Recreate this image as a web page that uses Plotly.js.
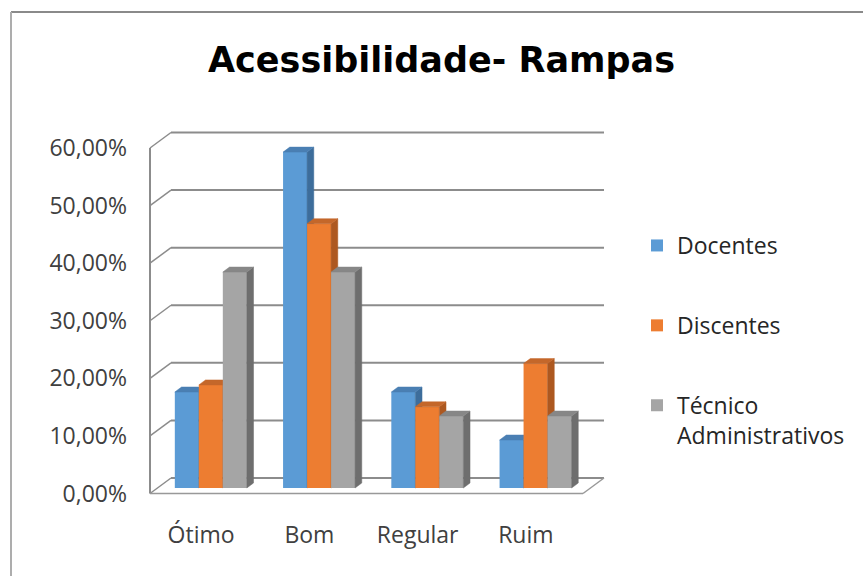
<!DOCTYPE html>
<html><head><meta charset="utf-8">
<script src="https://cdn.plot.ly/plotly-3.0.1.min.js"></script>
<style>html,body{margin:0;padding:0;background:#fff;} #chart{width:863px;height:576px;}</style>
</head><body><div id="chart"></div>
<script>
// ---- data ----
const categories = ['Ótimo', 'Bom', 'Regular', 'Ruim'];
const docentes   = [0.1667, 0.5833, 0.1667, 0.0833];
const discentes  = [0.179, 0.459, 0.141, 0.216];
const tecnicos   = [0.375, 0.375, 0.125, 0.125];
const seriesNames = ['Docentes', 'Discentes', 'Técnico<br>Administrativos'];
const yTickVals = [0, 0.1, 0.2, 0.3, 0.4, 0.5, 0.6];
const yTickText = ['0,00%', '10,00%', '20,00%', '30,00%', '40,00%', '50,00%', '60,00%'];

// ---- geometry / style ----
const W = 863, H = 576, L = 140, R = 243, T = 110, B = 71;
const plotL = L, plotR = W - R, plotT = T, plotB = H - B;
const pxX = 108.25;            // px per category
const floorLeftPx = 150;
const y0Px = 493.5, pxY = 345.5 / 0.6;
const nCat = categories.length;
const xr = [-0.5 - (floorLeftPx - plotL) / pxX, -0.5 + (plotR - floorLeftPx) / pxX];
const yr = [-(plotB - y0Px) / pxY, (y0Px - plotT) / pxY];
const wallDx = 21 / pxX, wallDy = 15.5 / pxY;
const barShiftX = 6.7 / pxX, barShiftY = 5.5 / pxY;
const xrBar = [xr[0] - barShiftX, xr[1] - barShiftX];
const yrBar = [yr[0] - barShiftY, yr[1] - barShiftY];
const barW = 24 / pxX;
const depthDx = 6.7 / pxX, depthDy = 5 / pxY;

const frontCol = ['#5B9BD5', '#ED7D31', '#A5A5A5'];
const sideCol  = ['#3D6D9B', '#AD5820', '#6E6E6E'];
const topCol   = ['#4A7FB3', '#C4672A', '#878787'];
const allSeries = [docentes, discentes, tecnicos];

const traces = [];
allSeries.forEach((vals, k) => {
  const xa = 'x' + (k + 2), ya = 'y' + (k + 2);
  const xs = categories.map((c, i) => i);
  traces.push({
    type: 'bar', name: seriesNames[k], x: xs, y: vals,
    width: barW, offset: (k - 1.5) * barW,
    xaxis: xa, yaxis: ya, legendgroup: 'g' + k,
    marker: {color: frontCol[k], line: {width: 0}},
    hoverinfo: 'skip'
  });
  const side = {x: [], y: []}, top = {x: [], y: []};
  vals.forEach((v, i) => {
    const x0 = i + (k - 1.5) * barW, x1 = x0 + barW;
    side.x.push(x1, x1 + depthDx, x1 + depthDx, x1, x1, null);
    side.y.push(0, depthDy, v + depthDy, v, 0, null);
    top.x.push(x0, x1, x1 + depthDx, x0 + depthDx, x0, null);
    top.y.push(v, v, v + depthDy, v + depthDy, v, null);
  });
  traces.push({type: 'scatter', mode: 'lines', x: side.x, y: side.y, fill: 'toself',
    fillcolor: sideCol[k], line: {color: sideCol[k], width: 0.5}, xaxis: xa, yaxis: ya,
    showlegend: false, hoverinfo: 'skip'});
  traces.push({type: 'scatter', mode: 'lines', x: top.x, y: top.y, fill: 'toself',
    fillcolor: topCol[k], line: {color: topCol[k], width: 0.5}, xaxis: xa, yaxis: ya,
    showlegend: false, hoverinfo: 'skip'});
});

const shapes = [];
const gridCol = '#8C8C8C';
const xLeft = -0.5, xRight = nCat - 0.5;
yTickVals.forEach(v => {
  shapes.push({type: 'line', xref: 'x', yref: 'y', layer: 'below',
    x0: xLeft + wallDx, x1: xRight + wallDx, y0: v + wallDy, y1: v + wallDy,
    line: {color: gridCol, width: 2}});
  shapes.push({type: 'line', xref: 'x', yref: 'y', layer: 'below',
    x0: xLeft, x1: xLeft + wallDx, y0: v, y1: v + wallDy,
    line: {color: gridCol, width: 1.5}});
});
const yMaxTick = yTickVals[yTickVals.length - 1];
shapes.push({type: 'line', xref: 'x', yref: 'y', layer: 'below',
  x0: xLeft, x1: xLeft, y0: 0, y1: yMaxTick, line: {color: gridCol, width: 2}});
shapes.push({type: 'line', xref: 'x', yref: 'y', layer: 'below',
  x0: xLeft, x1: xRight, y0: 0, y1: 0, line: {color: '#999999', width: 1.5}});
shapes.push({type: 'line', xref: 'x', yref: 'y', layer: 'below',
  x0: xRight, x1: xRight + wallDx, y0: 0, y1: wallDy, line: {color: '#999999', width: 1.5}});
// chart-area border (top and left edges)
const pX = px => (px - plotL) / (plotR - plotL);
const pY = py => (plotB - py) / (plotB - plotT);
shapes.push({type: 'line', xref: 'paper', yref: 'paper', x0: pX(11), x1: pX(870), y0: pY(12), y1: pY(12),
  line: {color: '#8A8A8A', width: 2}});
shapes.push({type: 'line', xref: 'paper', yref: 'paper', x0: pX(11), x1: pX(11), y0: pY(12), y1: pY(590),
  line: {color: '#ADADAD', width: 2}});

const tickFont = {family: 'Open Sans', size: 23, color: '#404040'};
const layout = {
  width: W, height: H,
  margin: {l: L, r: R, t: T, b: B},
  paper_bgcolor: '#ffffff', plot_bgcolor: 'rgba(0,0,0,0)',
  showlegend: true,
  title: {text: 'Acessibilidade- Rampas', font: {family: 'DejaVu Sans', size: 35, color: '#000000', weight: 'bold'},
    x: 441.5 / W, xref: 'container', xanchor: 'center', y: 1 - 60 / H, yref: 'container', yanchor: 'middle'},
  xaxis: {range: xr, tickvals: categories.map((c, i) => i), ticktext: categories, showgrid: false,
    zeroline: false, showline: false, ticks: '', tickfont: tickFont, ticklabelstandoff: 14, ticklabelshift: -3,
    fixedrange: true},
  yaxis: {range: yr, tickvals: yTickVals, ticktext: yTickText, showgrid: false, zeroline: false,
    showline: false, ticks: '', tickfont: tickFont, ticklabelstandoff: 12, fixedrange: true},
  legend: {x: 637 / W, xref: 'container', xanchor: 'left', y: 1 - 224 / H, yref: 'container', yanchor: 'top',
    font: {family: 'Open Sans', size: 23, color: '#262626'}, tracegroupgap: 47, valign: 'top',
    bgcolor: 'rgba(0,0,0,0)', traceorder: 'grouped'},
  shapes: shapes
};
[2, 3, 4].forEach(n => {
  layout['xaxis' + n] = {overlaying: 'x', anchor: 'y' + n, range: xrBar, visible: false, fixedrange: true};
  layout['yaxis' + n] = {overlaying: 'y', anchor: 'x' + n, range: yrBar, visible: false, fixedrange: true};
});

Plotly.newPlot('chart', traces, layout, {displayModeBar: false, staticPlot: true});
</script>
</body></html>
